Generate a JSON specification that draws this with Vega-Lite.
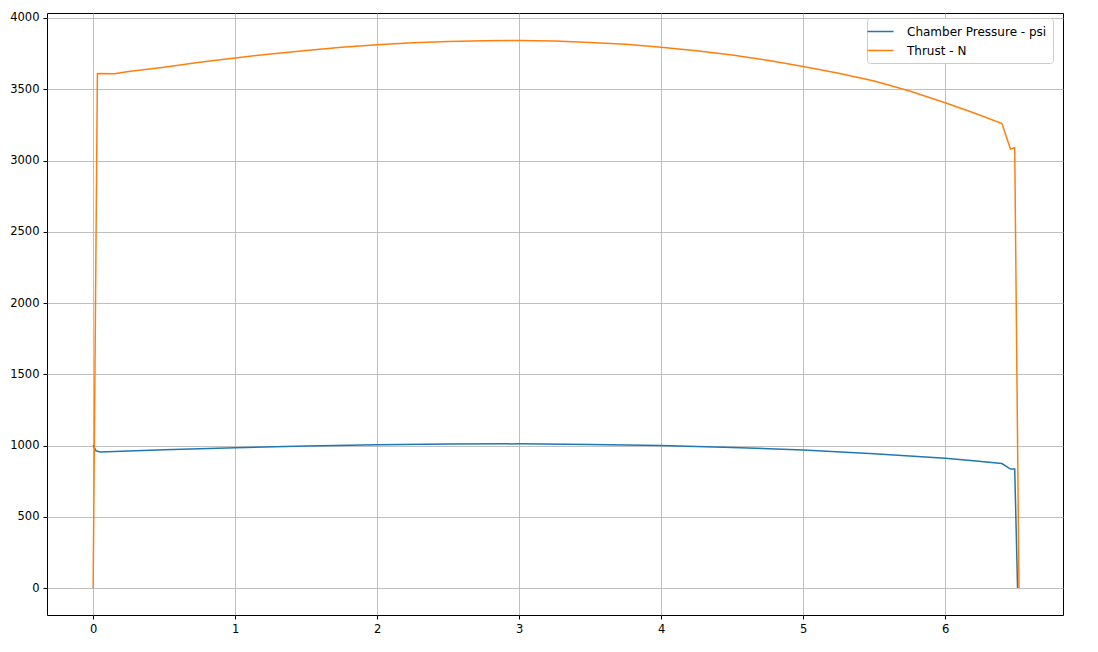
{
  "$schema": "https://vega.github.io/schema/vega-lite/v6.json",
  "width": 1016,
  "height": 602,
  "autosize": {"type": "none"},
  "padding": {"left": 47, "top": 13, "right": 35, "bottom": 37},
  "background": "white",
  "config": {
    "view": {"stroke": "black", "strokeWidth": 1},
    "font": "DejaVu Sans",
    "axis": {
      "grid": true, "gridColor": "#b0b0b0", "gridWidth": 0.8,
      "domain": false, "tickColor": "black", "tickSize": 4,
      "labelFont": "DejaVu Sans", "labelFontSize": 11.5, "labelColor": "black", "labelPadding": 4
    }
  },
  "data": {"values": [
    {"t": 0, "v": 1003, "s": "Chamber Pressure - psi"},
    {"t": 0.02, "v": 963, "s": "Chamber Pressure - psi"},
    {"t": 0.05, "v": 955, "s": "Chamber Pressure - psi"},
    {"t": 0.5, "v": 970, "s": "Chamber Pressure - psi"},
    {"t": 1, "v": 984, "s": "Chamber Pressure - psi"},
    {"t": 1.5, "v": 996, "s": "Chamber Pressure - psi"},
    {"t": 2, "v": 1005, "s": "Chamber Pressure - psi"},
    {"t": 2.5, "v": 1010, "s": "Chamber Pressure - psi"},
    {"t": 3, "v": 1012, "s": "Chamber Pressure - psi"},
    {"t": 3.5, "v": 1008, "s": "Chamber Pressure - psi"},
    {"t": 4, "v": 1000, "s": "Chamber Pressure - psi"},
    {"t": 4.5, "v": 987, "s": "Chamber Pressure - psi"},
    {"t": 5, "v": 968, "s": "Chamber Pressure - psi"},
    {"t": 5.5, "v": 943, "s": "Chamber Pressure - psi"},
    {"t": 6, "v": 910, "s": "Chamber Pressure - psi"},
    {"t": 6.2, "v": 893, "s": "Chamber Pressure - psi"},
    {"t": 6.4, "v": 874, "s": "Chamber Pressure - psi"},
    {"t": 6.46, "v": 835, "s": "Chamber Pressure - psi"},
    {"t": 6.49, "v": 835, "s": "Chamber Pressure - psi"},
    {"t": 6.51, "v": 0, "s": "Chamber Pressure - psi"},
    {"t": 0, "v": 0, "s": "Thrust - N"},
    {"t": 0.03, "v": 3610, "s": "Thrust - N"},
    {"t": 0.15, "v": 3608, "s": "Thrust - N"},
    {"t": 0.25, "v": 3625, "s": "Thrust - N"},
    {"t": 0.5, "v": 3655, "s": "Thrust - N"},
    {"t": 0.75, "v": 3690, "s": "Thrust - N"},
    {"t": 1, "v": 3720, "s": "Thrust - N"},
    {"t": 1.25, "v": 3748, "s": "Thrust - N"},
    {"t": 1.5, "v": 3772, "s": "Thrust - N"},
    {"t": 1.75, "v": 3795, "s": "Thrust - N"},
    {"t": 2, "v": 3812, "s": "Thrust - N"},
    {"t": 2.25, "v": 3826, "s": "Thrust - N"},
    {"t": 2.5, "v": 3835, "s": "Thrust - N"},
    {"t": 2.75, "v": 3841, "s": "Thrust - N"},
    {"t": 3, "v": 3842, "s": "Thrust - N"},
    {"t": 3.25, "v": 3838, "s": "Thrust - N"},
    {"t": 3.5, "v": 3828, "s": "Thrust - N"},
    {"t": 3.75, "v": 3815, "s": "Thrust - N"},
    {"t": 4, "v": 3795, "s": "Thrust - N"},
    {"t": 4.25, "v": 3770, "s": "Thrust - N"},
    {"t": 4.5, "v": 3740, "s": "Thrust - N"},
    {"t": 4.75, "v": 3703, "s": "Thrust - N"},
    {"t": 5, "v": 3660, "s": "Thrust - N"},
    {"t": 5.25, "v": 3612, "s": "Thrust - N"},
    {"t": 5.5, "v": 3558, "s": "Thrust - N"},
    {"t": 5.75, "v": 3488, "s": "Thrust - N"},
    {"t": 6, "v": 3405, "s": "Thrust - N"},
    {"t": 6.2, "v": 3335, "s": "Thrust - N"},
    {"t": 6.4, "v": 3260, "s": "Thrust - N"},
    {"t": 6.46, "v": 3080, "s": "Thrust - N"},
    {"t": 6.49, "v": 3090, "s": "Thrust - N"},
    {"t": 6.52, "v": 0, "s": "Thrust - N"}
  ]},
  "mark": {"type": "line", "strokeWidth": 1.5, "clip": true},
  "encoding": {
    "x": {"field": "t", "type": "quantitative",
      "scale": {"domain": [-0.325, 6.83], "nice": false, "zero": false},
      "axis": {"title": null, "values": [0, 1, 2, 3, 4, 5, 6], "format": "d"}},
    "y": {"field": "v", "type": "quantitative",
      "scale": {"domain": [-189, 4035], "nice": false, "zero": false},
      "axis": {"title": null, "values": [0, 500, 1000, 1500, 2000, 2500, 3000, 3500, 4000], "format": "d"}},
    "color": {"field": "s", "type": "nominal",
      "scale": {"domain": ["Chamber Pressure - psi", "Thrust - N"], "range": ["#1f77b4", "#ff7f0e"]},
      "legend": {"title": null, "orient": "none", "legendX": 820, "legendY": 5,
        "symbolType": "M-2,0H2", "symbolSize": 170, "symbolStrokeWidth": 1.5,
        "labelFont": "DejaVu Sans", "labelFontSize": 12, "labelColor": "black",
        "padding": 6, "rowPadding": 5, "strokeColor": "#cccccc", "fillColor": "white", "cornerRadius": 3, "labelOffset": 19}}
  }
}
